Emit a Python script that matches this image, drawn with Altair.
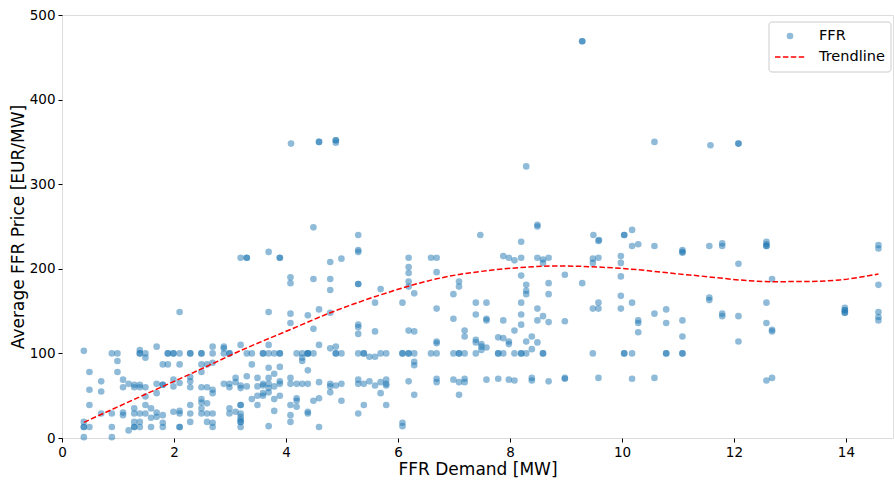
import altair as alt
import pandas as pd

# ---- scatter data: FFR demand [MW] and average FFR price [EUR/MW] ----
ffr_x = [
    0.39, 0.39, 0.49, 0.49, 0.49, 0.39, 0.39, 0.49,
    0.70, 0.70, 0.70,
    0.89, 0.99, 0.99, 0.99, 0.89, 0.89, 0.89,
    1.09, 1.09, 1.09, 1.09,
    1.19, 1.19,
    1.29, 1.29, 1.29, 1.29, 1.29, 1.29,
    1.39, 1.39, 1.39, 1.39, 1.39, 1.39, 1.39,
    1.49, 1.49, 1.49, 1.49, 1.49, 1.49,
    1.59, 1.59, 1.59,
    1.69, 1.69, 1.69, 1.69, 1.69,
    1.80, 1.80, 1.80, 1.80, 1.80,
    1.89, 1.89,
    1.99, 1.99, 1.99, 1.99,
    2.10, 2.10, 2.10, 2.10, 2.10, 2.10, 2.10,
    2.29, 2.29, 2.29, 2.29, 2.29, 2.29, 2.29,
    2.49, 2.49, 2.49, 2.49, 2.49, 2.49, 2.49, 2.49,
    2.59, 2.59, 2.59, 2.59, 2.59,
    2.69, 2.69, 2.69, 2.69, 2.69, 2.69, 2.69, 2.69,
    2.89, 2.89, 2.89, 2.89,
    2.99, 2.99, 2.99, 2.99, 2.99,
    3.19, 3.30, 3.69, 3.89, 4.08, 4.08, 4.49, 4.79, 4.79, 4.79, 4.99, 5.29, 5.29, 5.29, 5.69, 5.59,
    3.69, 4.08, 4.08, 4.39, 4.59, 4.79, 4.49, 5.29, 5.29, 5.29, 5.59,
    3.19, 3.69, 4.59, 4.79, 4.89,
    3.30, 3.39, 3.59, 3.69, 3.79, 3.89, 4.19, 4.29, 4.39, 4.49, 4.89, 4.99, 5.29, 5.39, 5.69, 5.49, 5.59,
    4.29, 4.29, 3.39, 3.69, 3.89, 4.39, 3.79,
    3.10, 3.10, 3.19, 3.19, 3.30, 3.30, 3.49, 3.49, 3.59, 3.59, 3.69, 3.69, 3.69, 3.79, 3.89, 3.89,
    4.08, 4.08, 4.19, 4.29, 4.39, 4.59, 4.79, 4.79, 4.89, 4.99, 5.29, 5.29, 5.39, 5.49, 5.59,
    3.69, 3.79, 3.89, 3.59, 3.59, 3.49, 3.39, 3.49, 3.79, 3.69, 4.08, 4.08, 4.08, 4.19, 4.19, 4.19,
    4.39, 4.39, 4.49, 4.59, 4.59, 4.79, 4.99, 5.39, 5.29,
    3.10, 3.19, 3.19, 3.19, 3.19, 3.19, 3.19,
    8.20, 6.19, 6.59, 6.69, 7.88, 7.98, 8.08, 8.20, 8.49, 8.59, 8.59, 8.69,
    6.19, 6.19, 6.19, 6.19, 6.29, 6.69, 7.09, 7.09, 6.99, 8.20, 8.29, 8.29, 8.29, 8.69, 8.69,
    6.08, 6.69, 6.99, 7.39, 7.58, 7.39, 7.58, 7.58, 7.88, 8.20, 8.20, 8.20, 8.08, 8.49, 8.49, 8.59, 8.69,
    6.19, 6.29, 6.69, 6.69, 7.19, 7.19, 7.39, 7.39, 7.49, 7.49, 7.49, 7.58, 7.79, 7.88, 7.98, 7.98,
    8.29, 8.39, 8.39, 8.49,
    5.79, 6.08, 6.19, 6.29, 6.59, 6.69, 6.99, 7.09, 7.19, 7.39, 7.79, 7.88, 8.08, 8.20, 8.29, 8.59,
    6.29, 6.29,
    5.69, 5.79, 5.79, 5.79, 6.19, 6.69, 6.69, 6.99, 7.09, 7.19, 7.19, 7.58, 7.79, 7.98, 8.08, 8.39, 8.39, 8.69,
    5.69, 6.29, 7.09, 5.79, 6.08, 6.08,
    9.58, 10.18, 10.29, 10.58, 11.08, 11.08, 11.08, 9.48, 9.48, 9.58, 9.98, 9.98, 11.56,
    8.98, 9.29, 9.98, 9.98, 9.58, 9.58, 9.48, 10.18, 9.98,
    8.98, 10.29, 10.29, 10.29, 10.58, 10.79, 10.79, 11.08, 11.08, 11.56, 11.56,
    9.48, 10.04, 10.18, 10.79, 11.08,
    8.98, 8.98, 9.58, 10.18, 10.58,
    11.79, 11.79, 12.58, 12.58, 12.58, 14.58, 14.58, 12.08, 12.68, 14.58, 12.58,
    13.98, 13.98, 13.98, 14.58, 14.58, 14.58, 11.79, 11.79, 12.08, 12.58, 12.68, 12.68, 12.08, 12.58, 12.68,
    9.29, 4.09, 4.59, 4.89, 4.89, 4.49, 5.29, 7.47, 10.58, 11.58, 12.08, 8.29, 8.49, 8.49, 9.49, 9.59, 10.04, 10.18,
    # overlapping (darker) duplicates
    4.59, 4.89, 9.29, 12.08, 10.04, 3.30, 3.89, 5.29, 1.39, 1.89, 1.99, 2.29, 2.49, 2.99, 3.59, 3.89,
    4.39, 4.89, 5.39, 6.08, 6.19, 7.09, 7.79, 8.20, 8.59, 10.04, 10.79, 13.98, 13.98, 11.08, 12.58,
    3.19, 3.19, 4.39, 0.39, 1.29, 2.10, 1.80,
]
ffr_y = [
    103, 1, 78, 57, 39, 19, 13, 13,
    67, 55, 29,
    100, 100, 91, 78, 29, 13, 1,
    69, 60, 30, 27,
    64, 9,
    63, 60, 35, 29, 19, 13,
    104, 100, 63, 60, 29, 19, 13,
    100, 95, 60, 49, 39, 29,
    35, 24, 13,
    108, 64, 53, 30, 25,
    87, 63, 27, 18, 13,
    100, 87,
    100, 69, 61, 31,
    149, 100, 87, 65, 32, 29, 13,
    100, 72, 67, 60, 39, 29, 19,
    100, 87, 78, 60, 46, 42, 35, 29,
    87, 60, 41, 29, 19,
    108, 100, 89, 57, 53, 29, 18, 13,
    108, 106, 100, 64,
    100, 64, 60, 35, 29,
    213, 213, 220, 213, 190, 183, 188, 208, 188, 175, 212, 222, 220, 182, 176, 160,
    149, 147, 136, 145, 152, 148, 129, 134, 131, 123, 126,
    110, 110, 110, 106, 108,
    100, 100, 100, 100, 100, 100, 100, 100, 100, 100, 100, 100, 100, 100, 100, 96, 96,
    95, 91, 87, 83, 84, 80, 76,
    71, 66, 62, 59, 73, 61, 71, 61, 64, 62, 71, 64, 59, 61, 67, 64,
    71, 64, 64, 64, 64, 66, 64, 61, 62, 64, 69, 64, 64, 67, 62,
    54, 46, 50, 53, 50, 50, 46, 39, 32, 14, 39, 27, 19, 47, 44, 37,
    31, 29, 44, 47, 13, 54, 44, 39, 29,
    31, 39, 29, 25, 22, 19, 13,
    232, 213, 213, 213, 215, 213, 210, 213, 213, 211, 207, 213,
    202, 195, 185, 179, 171, 196, 185, 179, 170, 192, 181, 174, 170, 183, 170,
    160, 153, 141, 160, 160, 146, 141, 139, 139, 160, 146, 134, 127, 153, 139, 144, 137,
    127, 126, 114, 112, 127, 120, 116, 113, 111, 108, 104, 107, 119, 118, 114, 111,
    114, 120, 105, 113,
    100, 100, 100, 100, 100, 100, 100, 100, 100, 100, 100, 100, 100, 100, 100, 100,
    90, 86,
    66, 69, 64, 62, 67, 70, 66, 69, 66, 70, 66, 69, 70, 69, 68, 71, 68, 67,
    53, 51, 51, 39, 18, 14,
    233, 227, 229, 227, 222, 220, 219, 212, 207, 213, 215, 207, 227,
    193, 183, 191, 168, 160, 153, 153, 160, 153,
    138, 139, 136, 125, 147, 152, 136, 139, 120, 166, 163,
    100, 100, 100, 100, 100,
    71, 70, 71, 70, 71,
    230, 227, 232, 229, 227, 228, 224, 206, 188, 181, 160,
    154, 151, 148, 149, 143, 139, 147, 144, 144, 136, 128, 126, 114, 68, 71,
    469, 348, 350, 352, 349, 249, 240, 240, 350, 346, 348, 321, 252, 250, 240, 234, 240, 246,
    350, 352, 469, 348, 240, 213, 213, 182, 100, 100, 100, 100, 100, 100, 100, 100,
    100, 100, 100, 100, 100, 100, 100, 100, 100, 100, 100, 151, 148, 100, 227,
    39, 19, 100, 13, 13, 13, 63,
]

# ---- trendline ----
trend_x = [0.39, 1.5, 2.5, 3.18, 4.07, 4.79, 5.68, 6.75, 7.82, 8.89, 9.96, 11.21, 12.7, 13.3, 13.89, 14.2, 14.58]
trend_y = [18.5, 52, 82, 103, 128, 148, 169, 189, 199.4, 203.3, 200.6, 192.7, 184.8, 185, 186.8, 189.5, 193.9]

x_ticks = [0, 2, 4, 6, 8, 10, 12, 14]
y_ticks = [0, 100, 200, 300, 400, 500]

FONT = "DejaVu Sans"
n = min(len(ffr_x), len(ffr_y))
pts = pd.DataFrame({"x": ffr_x[:n], "y": ffr_y[:n]})
trend = pd.DataFrame({"x": trend_x, "y": trend_y})

xscale = alt.Scale(domain=[0, 14.84], nice=False, zero=False)
yscale = alt.Scale(domain=[0, 500], nice=False)

xaxis = alt.Axis(values=x_ticks, title="FFR Demand [MW]", grid=False, domain=False,
                 tickColor="black", tickSize=4, labelFontSize=13.5, labelColor="black",
                 labelFont=FONT, titleFont=FONT, titleFontSize=17, titleFontWeight="normal",
                 titleColor="black", labelPadding=3, titlePadding=3, format="d",
                 labelFlush=False)
yaxis = alt.Axis(values=y_ticks, title="Average FFR Price [EUR/MW]", grid=False, domain=False,
                 tickColor="black", tickSize=4, labelFontSize=13.5, labelColor="black",
                 labelFont=FONT, titleFont=FONT, titleFontSize=17, titleFontWeight="normal",
                 titleColor="black", labelPadding=3, titlePadding=2, format="d",
                 labelFlush=False)

scatter = alt.Chart(pts).mark_circle(size=44, opacity=0.5, color="#1f77b4").encode(
    x=alt.X("x:Q", scale=xscale, axis=xaxis),
    y=alt.Y("y:Q", scale=yscale, axis=yaxis),
)

line = alt.Chart(trend).mark_line(color="red", strokeWidth=1.5, strokeDash=[5.5, 2.4],
                                  interpolate="monotone").encode(
    x=alt.X("x:Q", scale=xscale),
    y=alt.Y("y:Q", scale=yscale),
)

one = pd.DataFrame({"k": [0]})
leg_box = alt.Chart(one).mark_rect(fill="white", fillOpacity=0.8, stroke="#cccccc",
                                   strokeWidth=1, cornerRadius=3).encode(
    x=alt.value(707), x2=alt.value(829), y=alt.value(7), y2=alt.value(57))
leg_pt = alt.Chart(one).mark_circle(size=44, opacity=0.5, color="#1f77b4").encode(
    x=alt.value(728), y=alt.value(21))
leg_line = alt.Chart(one).mark_rule(color="red", strokeWidth=1.5, strokeDash=[5.5, 2.4]).encode(
    x=alt.value(713), x2=alt.value(744), y=alt.value(42))
leg_t1 = alt.Chart(one).mark_text(align="left", baseline="middle", font=FONT, fontSize=14.5,
                                  color="black").encode(
    x=alt.value(757), y=alt.value(21), text=alt.value("FFR"))
leg_t2 = alt.Chart(one).mark_text(align="left", baseline="middle", font=FONT, fontSize=14.5,
                                  color="black").encode(
    x=alt.value(757), y=alt.value(42), text=alt.value("Trendline"))

chart = alt.layer(scatter, line, leg_box, leg_pt, leg_line, leg_t1, leg_t2).properties(
    width=831, height=423,
    autosize=alt.AutoSizeParams(type="none"),
    padding={"left": 62, "top": 15, "right": 1, "bottom": 42},
).configure_view(stroke="black", strokeWidth=1).configure(background="white")

chart.save("out.html", embed_options={"renderer": "svg", "actions": False})
